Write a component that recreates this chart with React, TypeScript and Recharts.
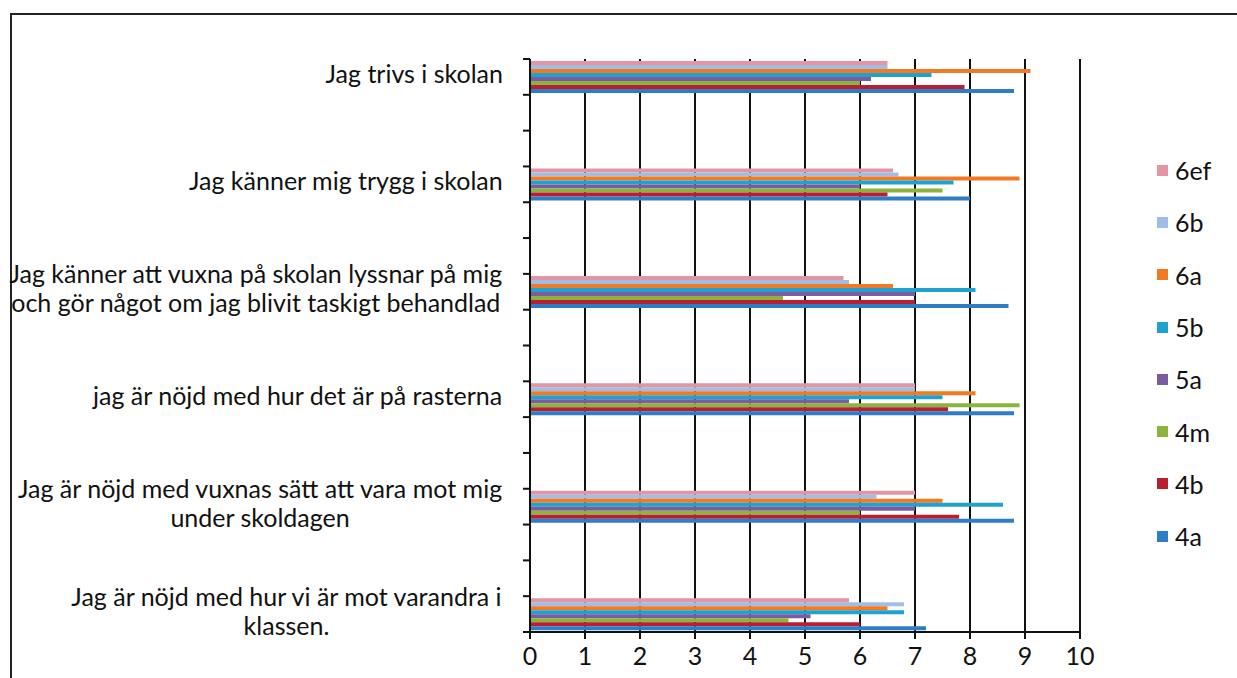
import React from "react";
import { BarChart, Bar, XAxis, YAxis, CartesianGrid } from "recharts";

// ---- data ----
const categoryLines: string[][] = [
  ["Jag trivs i skolan"],
  ["Jag känner mig trygg i skolan"],
  ["Jag känner att vuxna på skolan lyssnar på mig", "och gör något om jag blivit taskigt behandlad"],
  ["jag är nöjd med hur det är på rasterna"],
  ["Jag är nöjd med vuxnas sätt att vara mot mig", "under skoldagen"],
  ["Jag är nöjd med hur vi är mot varandra i", "klassen."],
];

const classes = ["6ef", "6b", "6a", "5b", "5a", "4m", "4b", "4a"];

const v4a = [8.8, 8.0, 8.7, 8.8, 8.8, 7.2];
const v4b = [7.9, 6.5, 7.0, 7.6, 7.8, 6.0];
const v4m = [6.0, 7.5, 4.6, 8.9, 6.0, 4.7];
const v5a = [6.2, 6.0, 7.0, 5.8, 7.0, 5.1];
const v5b = [7.3, 7.7, 8.1, 7.5, 8.6, 6.8];
const v6a = [9.1, 8.9, 6.6, 8.1, 7.5, 6.5];
const v6b = [6.5, 6.7, 5.8, 7.0, 6.3, 6.8];
const v6ef = [6.5, 6.6, 5.7, 7.0, 7.0, 5.8];

const xTicks = [0, 1, 2, 3, 4, 5, 6, 7, 8, 9, 10];

const seriesValues: Record<string, number[]> = {
  "4a": v4a, "4b": v4b, "4m": v4m, "5a": v5a, "5b": v5b, "6a": v6a, "6b": v6b, "6ef": v6ef,
};

const colors: Record<string, string> = {
  "6ef": "#e495a2",
  "6b": "#9fbde6",
  "6a": "#f27a22",
  "5b": "#1fa2cf",
  "5a": "#7b5ca2",
  "4m": "#8bb43d",
  "4b": "#b91f30",
  "4a": "#2f7dc6",
};

// Excel layout: two empty rows between each real category
const GAP_ROWS = 2;
const rows: any[] = [];
categoryLines.forEach((lines, ci) => {
  const row: any = { key: "c" + rows.length, lines };
  classes.forEach((c) => (row[c] = seriesValues[c][ci]));
  rows.push(row);
  if (ci < categoryLines.length - 1) {
    for (let g = 0; g < GAP_ROWS; g++) rows.push({ key: "c" + rows.length, lines: [] });
  }
});

// ---- layout ----
const W = 1237;
const H = 678;
const MT = 59;
const MR = 157;
const XH = 46;
const YW = 530;
const PLOT_H = H - MT - XH;
const HALF = PLOT_H / rows.length / 2;
const FONT = "Lato, 'Open Sans', sans-serif";
const FS = 25;

let canvasCtx: CanvasRenderingContext2D | null = null;
function measure(t: string) {
  if (!canvasCtx) {
    const c = document.createElement("canvas");
    canvasCtx = c.getContext("2d");
  }
  if (!canvasCtx) return t.length * FS * 0.45;
  canvasCtx.font = `${FS}px Lato`;
  return canvasCtx.measureText(t).width;
}

const YTick = (props: any) => {
  const { y, index } = props;
  const row = rows[index];
  const lines: string[] = row ? row.lines : [];
  const ax = YW;
  const right = ax - 27;
  const maxW = lines.length ? Math.max(...lines.map(measure)) : 0;
  const cx = right - maxW / 2;
  const lh = 29;
  return (
    <g>
      <line x1={ax - 7} x2={ax} y1={y - HALF} y2={y - HALF} stroke="#111" strokeWidth={2} />
      {index === rows.length - 1 && (
        <line x1={ax - 7} x2={ax} y1={y + HALF} y2={y + HALF} stroke="#111" strokeWidth={2} />
      )}
      {lines.map((l, i) => (
        <text
          key={i}
          x={cx}
          y={y - 4 + (i - (lines.length - 1) / 2) * lh}
          textAnchor="middle"
          dominantBaseline="central"
          fontFamily={FONT}
          fontSize={FS}
          fill="#111"
        >
          {l}
        </text>
      ))}
    </g>
  );
};

const LegendBox = () => (
  <div
    style={{
      position: "absolute",
      left: 1157,
      top: 144,
      fontFamily: FONT,
      fontSize: FS,
      color: "#111",
    }}
  >
    {classes.map((c) => (
      <div key={c} style={{ height: 52.3, display: "flex", alignItems: "center" }}>
        <span
          style={{ width: 11, height: 11, background: colors[c], display: "inline-block", marginRight: 7 }}
        />
        <span>{c}</span>
      </div>
    ))}
  </div>
);

export default function App() {
  return (
    <div style={{ position: "absolute", left: 0, top: 0, width: W, height: H, overflow: "hidden", background: "#fff" }}>
      <div
        style={{
          position: "absolute",
          left: 10,
          top: 13,
          width: W + 20,
          height: H + 20,
          border: "2px solid #222",
          boxSizing: "border-box",
        }}
      />
      <div style={{ position: "absolute", left: 0, top: 0 }}>
        <BarChart
          width={W}
          height={H}
          data={rows}
          layout="vertical"
          margin={{ top: MT, right: MR, bottom: 0, left: 0 }}
          barCategoryGap={2}
          barGap={0}
        >
          <CartesianGrid horizontal={false} stroke="#111" strokeWidth={2} />
          <XAxis
            type="number"
            domain={[0, 10]}
            ticks={xTicks}
            interval={0}
            height={XH}
            axisLine={{ stroke: "#111", strokeWidth: 2 }}
            tickLine={{ stroke: "#111", strokeWidth: 2 }}
            tickSize={7}
            tickMargin={8}
            tick={{ fontFamily: FONT, fontSize: FS, fill: "#111" }}
          />
          <YAxis
            type="category"
            dataKey="key"
            width={YW}
            interval={0}
            tickSize={0}
            tickMargin={0}
            tickLine={false}
            axisLine={{ stroke: "#111", strokeWidth: 2 }}
            tick={<YTick />}
          />
          {classes.map((c) => (
            <Bar key={c} dataKey={c} fill={colors[c]} isAnimationActive={false} />
          ))}
        </BarChart>
      </div>
      <LegendBox />
    </div>
  );
}
